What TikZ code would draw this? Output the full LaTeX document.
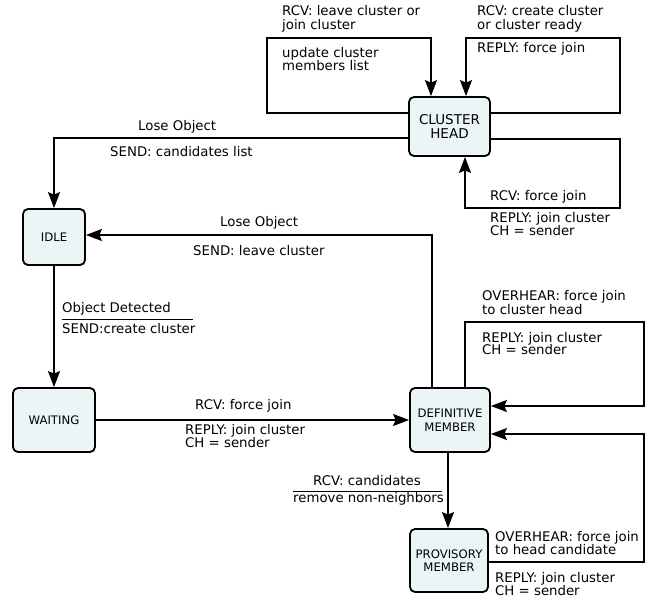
\documentclass[tikz,border=0pt]{standalone}
\usepackage{fontspec}
\setmainfont{DejaVu Sans}
\usetikzlibrary{arrows.meta}
\definecolor{boxfill}{RGB}{236,245,245}
\begin{document}
\begin{tikzpicture}[x=1pt,y=-1pt,
  state/.style={draw, line width=1.8pt, rounded corners=5pt, fill=boxfill,
    align=center, inner sep=0pt, font=\fontsize{11.7}{13.5}\selectfont},
  lbl/.style={anchor=base west, inner sep=0pt, font=\fontsize{13.3}{14}\selectfont},
  link/.style={line width=1.5pt, -{Stealth[length=16pt,width=12pt,inset=2.5pt]}},
  rule/.style={line width=1pt}]
\useasboundingbox (0,0) rectangle (654,600);

% states
\node[state, minimum width=81pt, minimum height=59pt, font=\fontsize{13.5}{14}\selectfont]
  (ch) at (449.5,126.5) {CLUSTER\\HEAD};
\node[state, minimum width=62pt, minimum height=56pt] (idle) at (54,237) {IDLE};
\node[state, minimum width=82pt, minimum height=64pt] (wait) at (54,420) {WAITING};
\node[state, minimum width=80pt, minimum height=64pt] (dm) at (450,420) {DEFINITIVE\\MEMBER};
\node[state, minimum width=78pt, minimum height=63pt] (pm) at (449,560.5) {PROVISORY\\MEMBER};

% cluster head self loops
\draw[link] (ch.west |- 0,113) -| (267,38) -| (ch.north -| 431,0);
\draw[link] (ch.east |- 0,113) -| (620,38) -| (ch.north -| 466,0);
\draw[link] (ch.east |- 0,139) -| (620,208) -| (ch.south -| 465,0);
\node[lbl] (t1a) at (282,15) {RCV: leave cluster or};
\node[lbl] (t1b) at (282,29) {join cluster};
\node[lbl] (t1c) at (282,57) {update cluster};
\node[lbl] (t1d) at (282,70) {members list};
\node[lbl] (t2a) at (477,15) {RCV: create cluster};
\node[lbl] (t2b) at (477,29) {or cluster ready};
\node[lbl] (t2c) at (477,52) {REPLY: force join};
\node[lbl] (t3a) at (490,200) {RCV: force join};
\node[lbl] (t3b) at (490,222) {REPLY: join cluster};
\node[lbl] (t3c) at (490,235) {CH = sender};

% cluster head -> idle
\draw[link] (ch.west |- 0,138) -| (idle.north);
\node[lbl] (t4a) at (138,130) {Lose Object};
\node[lbl] (t4b) at (110,156) {SEND: candidates list};

% definitive member -> idle
\draw[link] (dm.north -| 432,0) |- (idle.east |- 0,235);
\node[lbl] (t5a) at (220,226) {Lose Object};
\node[lbl] (t5b) at (193,255) {SEND: leave cluster};

% idle -> waiting
\draw[link] (idle.south) -- (wait.north);
\node[lbl] (t6a) at (62,312) {Object Detected};
\draw[rule] (62,319) -- (193,319);
\node[lbl] (t6b) at (62,333) {SEND:create cluster};

% waiting -> definitive member
\draw[link] (wait.east) -- (dm.west);
\node[lbl] (t7a) at (195,409) {RCV: force join};
\node[lbl] (t7b) at (185,434) {REPLY: join cluster};
\node[lbl] (t7c) at (185,447) {CH = sender};

% definitive member self loop
\draw[link] (dm.north -| 465,0) |- (644,322) |- (dm.east |- 0,406);
\node[lbl] (t8a) at (482,300) {OVERHEAR: force join};
\node[lbl] (t8b) at (482,314) {to cluster head};
\node[lbl] (t8c) at (482,342) {REPLY: join cluster};
\node[lbl] (t8d) at (482,354) {CH = sender};

% definitive member -> provisory member
\draw[link] (dm.south -| 448,0) -- (pm.north -| 448,0);
\node[lbl] (t9a) at (313,485) {RCV: candidates};
\draw[rule] (293,491) -- (442,491);
\node[lbl] (t9b) at (293,502) {remove non-neighbors};

% provisory member -> definitive member
\draw[link] (pm.east |- 0,562) -| (644,434) -- (dm.east |- 0,434);
\node[lbl] (t10a) at (495,541) {OVERHEAR: force join};
\node[lbl] (t10b) at (495,554) {to head candidate};
\node[lbl] (t10c) at (495,582) {REPLY: join cluster};
\node[lbl] (t10d) at (495,595) {CH = sender};
\end{tikzpicture}
\end{document}
